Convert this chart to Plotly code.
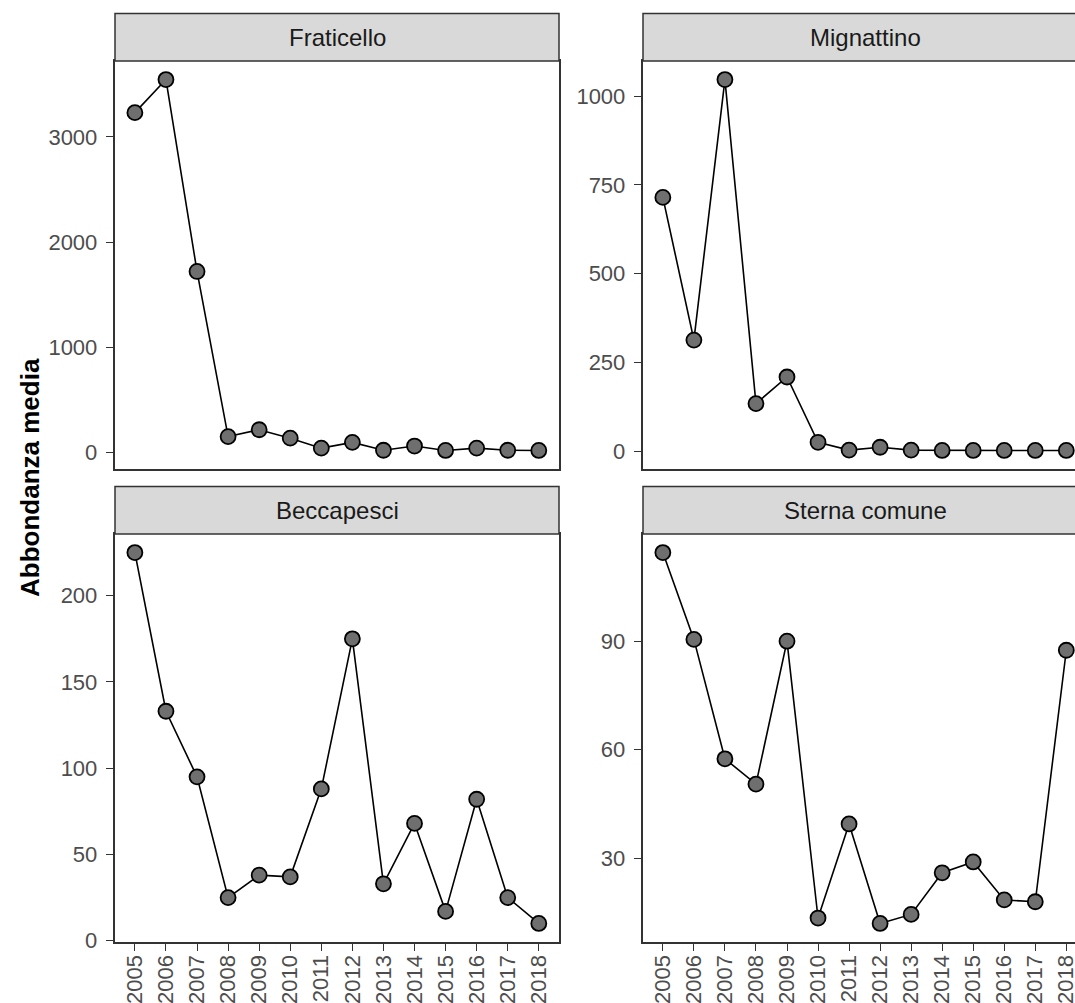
import plotly.graph_objects as go

years = [2005, 2006, 2007, 2008, 2009, 2010, 2011, 2012, 2013, 2014, 2015, 2016, 2017, 2018]
species = ["Fraticello", "Mignattino", "Beccapesci", "Sterna comune"]
fraticello = [3230, 3545, 1720, 150, 215, 135, 40, 95, 20, 60, 18, 40, 20, 18]
mignattino = [715, 313, 1047, 134, 209, 25, 3, 11, 3, 2, 2, 2, 2, 2]
beccapesci = [225, 133, 95, 25, 38, 37, 88, 175, 33, 68, 17, 82, 25, 10]
sterna = [114.5, 90.5, 57.5, 50.5, 90, 13.5, 39.5, 12, 14.5, 26, 29, 18.5, 18, 87.5]
yticks = [[0, 1000, 2000, 3000], [0, 250, 500, 750, 1000], [0, 50, 100, 150, 200], [30, 60, 90]]
series = [fraticello, mignattino, beccapesci, sterna]

W, H = 1075, 1003
FONT = "Liberation Sans, Arial, sans-serif"
FRAME = "#333333"

# panel geometry in pixels: (x0, x1, y0_top, y1_bottom)
panels = [
    (115, 559, 61, 469),
    (643, 1075, 61, 469),
    (115, 559, 534, 942),
    (643, 1075, 534, 942),
]
strip_h = 47.5
xranges = [[2004.36, 2018.65], [2004.36, 2018.28], [2004.36, 2018.65], [2004.36, 2018.28]]

fig = go.Figure()
shapes = []
annotations = []
for i, (vals, name) in enumerate(zip(series, species)):
    ax = "" if i == 0 else str(i + 1)
    x0, x1, yt, yb = panels[i]
    right = i % 2 == 1
    bottom = i >= 2
    fig.add_trace(go.Scatter(
        x=years, y=vals, mode="lines+markers",
        xaxis="x" + ax, yaxis="y" + ax,
        line=dict(color="black", width=1.6),
        marker=dict(size=15, color="#6f6f6f", line=dict(color="black", width=1.8)),
        showlegend=False, cliponaxis=False,
    ))
    lo, hi = min(vals), max(vals)
    span = hi - lo
    yr = [lo - 0.05 * span, hi + 0.05 * span]
    common = dict(showgrid=False, zeroline=False, showline=True, automargin=False,
                  linecolor=FRAME, linewidth=1.5)
    tickstyle = dict(ticks="outside", ticklen=7.5, tickwidth=1.3, tickcolor=FRAME,
                     ticklabeloverflow="allow",
                     tickfont=dict(family=FONT, size=22, color="#4d4d4d"))
    xdict = dict(domain=[x0 / W, x1 / W], anchor="y" + ax, range=xranges[i],
                 mirror=True, **common)
    if bottom:
        xdict.update(tickmode="array", tickvals=years, ticktext=[str(y) for y in years],
                     tickangle=-90, ticklabelstandoff=-5, **tickstyle)
    else:
        xdict.update(showticklabels=False, ticks="")
    fig.update_layout(**{
        "xaxis" + ax: xdict,
        "yaxis" + ax: dict(
            domain=[1 - yb / H, 1 - yt / H], anchor="x" + ax, range=yr,
            tickmode="array", tickvals=yticks[i], ticklabelstandoff=4,
            mirror=(not right), **common, **tickstyle),
    })
    # strip
    sx1 = (x1 + 30) / W if right else x1 / W
    shapes.append(dict(type="rect", xref="paper", yref="paper",
                       x0=x0 / W, x1=sx1, y0=1 - yt / H, y1=1 - (yt - strip_h) / H,
                       fillcolor="#d9d9d9", line=dict(color=FRAME, width=1.5), layer="above"))
    cx = (x0 + (x1 + 12 if right else x1)) / 2
    annotations.append(dict(text=name, xref="paper", yref="paper",
                            x=cx / W, y=1 - (yt - strip_h / 2) / H,
                            xanchor="center", yanchor="middle", showarrow=False,
                            font=dict(family=FONT, size=24, color="#1a1a1a")))

annotations.append(dict(text="<b>Abbondanza media</b>", xref="paper", yref="paper",
                        x=30 / W, y=1 - 478 / H, textangle=-90,
                        xanchor="center", yanchor="middle", showarrow=False,
                        font=dict(family=FONT, size=26, color="black")))

fig.update_layout(
    width=W, height=H, margin=dict(l=0, r=0, t=0, b=0, autoexpand=False),
    paper_bgcolor="white", plot_bgcolor="white",
    shapes=shapes, annotations=annotations,
)
fig.write_html("out.html")
